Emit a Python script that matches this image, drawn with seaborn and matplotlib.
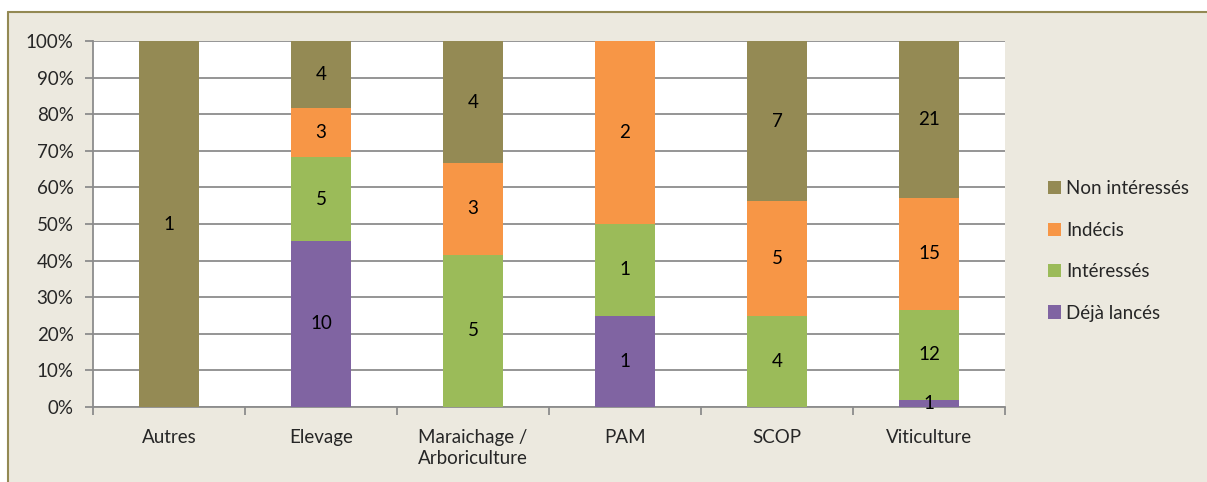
import numpy as np
import pandas as pd
import matplotlib
matplotlib.use("Agg")
import matplotlib.pyplot as plt
from matplotlib.lines import Line2D
from matplotlib.patches import Patch, Rectangle
from matplotlib.ticker import PercentFormatter, FixedLocator
import seaborn as sns

# Data (counts per category)
categories = ["Autres", "Elevage", "Maraichage /\nArboriculture", "PAM", "SCOP", "Viticulture"]
deja_lances = [0, 10, 0, 1, 0, 1]
interesses = [0, 5, 5, 1, 4, 12]
indecis = [0, 3, 3, 2, 5, 15]
non_interesses = [1, 4, 4, 0, 7, 21]

series_names = ["Déjà lancés", "Intéressés", "Indécis", "Non intéressés"]
colors = ["#8064A2", "#9BBB59", "#F79646", "#948A54"]

df = pd.DataFrame({
    "categorie": categories,
    "Déjà lancés": deja_lances,
    "Intéressés": interesses,
    "Indécis": indecis,
    "Non intéressés": non_interesses,
})
totals = df[series_names].sum(axis=1)
shares = df[series_names].div(totals, axis=0)
cum = shares.cumsum(axis=1)

sns.set_theme(style="white")
plt.rcParams["font.family"] = ["Lato", "DejaVu Sans"]

bg = "#ECE9DF"
fig = plt.figure(figsize=(12.07, 4.82), dpi=100, facecolor="white")

# beige chart area with an olive frame on the left and top
fx, fy = 8 / 1207, 1 - 12 / 482
fig.patches.append(Rectangle((fx, 0), 1 - fx, fy, transform=fig.transFigure,
                             facecolor=bg, edgecolor="none", zorder=-2))
fig.lines.append(Line2D([fx, fx], [0, fy], transform=fig.transFigure,
                        color="#938953", lw=1.5, zorder=-1))
fig.lines.append(Line2D([fx, 1], [fy, fy], transform=fig.transFigure,
                        color="#938953", lw=1.5, zorder=-1))

ax = fig.add_axes([93 / 1207, 1 - 407 / 482, 912 / 1207, 366 / 482])
ax.set_facecolor("white")

# stacked bars: draw cumulative layers from the top down
for name, col in reversed(list(zip(series_names, colors))):
    sns.barplot(x=df["categorie"], y=cum[name], color=col, saturation=1,
                width=0.4, ax=ax, zorder=3, linewidth=0)

# value labels at segment centres
for i in range(len(categories)):
    bottom = 0.0
    for name in series_names:
        v = df.loc[i, name]
        h = shares.loc[i, name]
        if v > 0:
            ax.text(i, bottom + h / 2, str(v), ha="center", va="center",
                    fontsize=13.5, color="black", zorder=5)
        bottom += h

ax.set_xlim(-0.5, len(categories) - 0.5)
ax.set_ylim(0, 1)
ax.yaxis.set_major_locator(FixedLocator(np.arange(0, 1.01, 0.1)))
ax.yaxis.set_major_formatter(PercentFormatter(1.0, decimals=0))
ax.grid(axis="y", color="#8C8C8C", lw=1.3, zorder=0)
ax.grid(axis="x", visible=False)
ax.set_xlabel("")
ax.set_ylabel("")

for s in ["top", "right"]:
    ax.spines[s].set_visible(False)
for s in ["left", "bottom"]:
    ax.spines[s].set_color("#8C8C8C")
    ax.spines[s].set_linewidth(1.3)

ax.tick_params(axis="y", which="major", length=6, width=1.3, color="#8C8C8C",
               labelsize=13.5, pad=8, left=True)
ax.set_xticks(range(len(categories)))
ax.set_xticklabels(categories)
ax.tick_params(axis="x", which="major", length=0, labelsize=13.5, pad=16)
ax.set_xticks(np.arange(-0.5, len(categories), 1), minor=True)
ax.tick_params(axis="x", which="minor", length=6, width=1.3, color="#8C8C8C",
               bottom=True)
for lab in ax.get_xticklabels():
    lab.set_linespacing(1.3)

handles = [Patch(facecolor=c, edgecolor="none") for c in reversed(colors)]
fig.legend(handles, list(reversed(series_names)), loc="center left",
           bbox_to_anchor=(1040 / 1207, 1 - 251 / 482), frameon=False,
           fontsize=13.5, handlelength=0.7, handleheight=0.7,
           handletextpad=0.3, labelspacing=1.3, borderaxespad=0)

fig.savefig("out.png", dpi=100, facecolor="white")
